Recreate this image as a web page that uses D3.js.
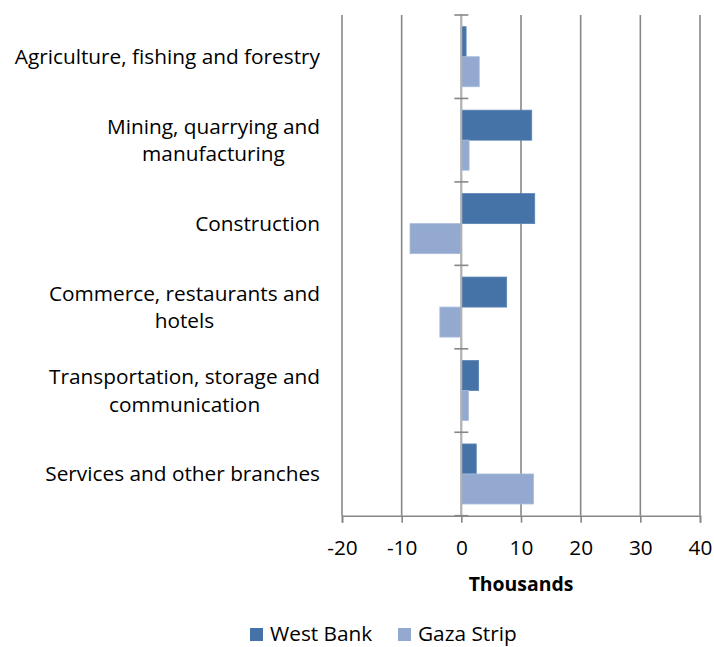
<!DOCTYPE html>
<html>
<head>
<meta charset="utf-8">
<script src="https://cdn.jsdelivr.net/npm/d3@7"></script>
<style>
  html, body { margin: 0; padding: 0; background: #fff; }
  svg { display: block; }
  text { font-family: "Open Sans", "DejaVu Sans", sans-serif; fill: #000; }
</style>
</head>
<body>
<svg id="chart" width="714" height="647"></svg>
<script>
// Change in employment by economic activity (thousands)
const categories = [
  ["Agriculture, fishing and forestry"],
  ["Mining, quarrying and", "manufacturing"],
  ["Construction"],
  ["Commerce, restaurants and", "hotels"],
  ["Transportation, storage and", "communication"],
  ["Services and other branches"]
];
const seriesNames = ["West Bank", "Gaza Strip"];
const westBank = [0.8, 11.8, 12.3, 7.6, 2.9, 2.5];
const gazaStrip = [3.0, 1.3, -8.6, -3.6, 1.2, 12.1];
const xTicks = [-20, -10, 0, 10, 20, 30, 40];
const colors = ["#4572A7", "#93A9CF"];
const strokes = ["#5B84B5", "#A9BCDB"];

const svg = d3.select("#chart");
const plotLeft = 342, plotRight = 700, plotTop = 15, plotBottom = 515.7;
const fontSize = 20.8;

const x = d3.scaleLinear().domain([-20, 40]).range([plotLeft, plotRight]);
const keys = categories.map((c, i) => i);
const y = d3.scaleBand().domain(keys).range([plotTop, plotBottom]).paddingInner(0).paddingOuter(0);
const inner = d3.scaleBand().domain([0, 1]).range([0, y.bandwidth()]).paddingInner(0).paddingOuter(0.39);

// vertical gridlines
svg.append("g").selectAll("line").data(xTicks).join("line")
  .attr("x1", d => x(d)).attr("x2", d => x(d))
  .attr("y1", plotTop).attr("y2", plotBottom)
  .attr("stroke", "#878787").attr("stroke-width", 1.6);

// bars
const data = keys.flatMap(i => [
  { cat: i, s: 0, v: westBank[i] },
  { cat: i, s: 1, v: gazaStrip[i] }
]);
svg.append("g").selectAll("rect").data(data).join("rect")
  .attr("x", d => x(Math.min(0, d.v)))
  .attr("width", d => Math.abs(x(d.v) - x(0)))
  .attr("y", d => y(d.cat) + inner(d.s))
  .attr("height", inner.bandwidth())
  .attr("fill", d => colors[d.s])
  .attr("stroke", d => strokes[d.s]).attr("stroke-width", 0.8);

// category axis at zero
svg.append("line")
  .attr("x1", x(0)).attr("x2", x(0)).attr("y1", plotTop).attr("y2", plotBottom)
  .attr("stroke", "#b3b3b3").attr("stroke-width", 1.8);
const bounds = keys.map(i => y(i)).concat([plotBottom]);
svg.append("g").selectAll("line").data(bounds).join("line")
  .attr("x1", x(0) - 7).attr("x2", x(0) + 7)
  .attr("y1", d => d).attr("y2", d => d)
  .attr("stroke", "#878787").attr("stroke-width", 1.6);

// value axis at bottom
const xAxis = svg.append("g").attr("transform", `translate(0,${plotBottom})`)
  .call(d3.axisBottom(x).tickValues(xTicks).tickSize(7).tickFormat(d => String(d)));
xAxis.select(".domain").attr("stroke", "#878787").attr("stroke-width", 1.6);
xAxis.selectAll(".tick line").attr("stroke", "#878787").attr("stroke-width", 1.6);
xAxis.selectAll(".tick text")
  .attr("y", 39.3).attr("dy", null)
  .style("font-family", '"Open Sans", sans-serif').style("font-size", fontSize + "px").attr("fill", "#000");

svg.append("text").attr("x", 521).attr("y", 591)
  .attr("text-anchor", "middle").style("font-size", "19.4px").style("font-weight", "bold")
  .text("Thousands");

// category labels, right aligned, lines centred within the block
const labelRight = 320, lineH = 27.5;
keys.forEach(i => {
  const lines = categories[i];
  const g = svg.append("g");
  const cy = y(i) + y.bandwidth() / 2;
  const texts = lines.map((t, k) => g.append("text")
    .attr("y", cy + (k - (lines.length - 1) / 2) * lineH)
    .attr("dy", "0.35em")
    .style("font-size", fontSize + "px")
    .text(t));
  const maxW = d3.max(texts, t => t.node().getComputedTextLength());
  texts.forEach(t => t.attr("x", labelRight - maxW / 2).attr("text-anchor", "middle"));
});

// legend
const legendItems = [
  { name: seriesNames[0], c: colors[0], x: 250 },
  { name: seriesNames[1], c: colors[1], x: 398 }
];
const lg = svg.append("g");
legendItems.forEach(d => {
  lg.append("rect").attr("x", d.x).attr("y", 628).attr("width", 13).attr("height", 13).attr("fill", d.c);
  lg.append("text").attr("x", d.x + 20).attr("y", 640.5).style("font-size", fontSize + "px").text(d.name);
});
</script>
</body>
</html>
